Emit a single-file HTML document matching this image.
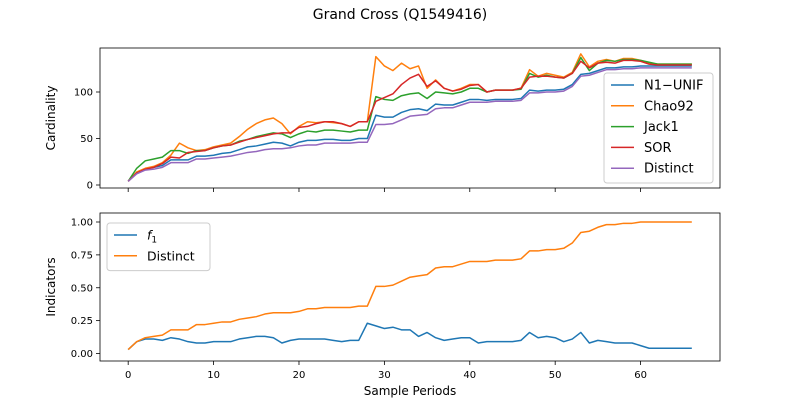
<!DOCTYPE html>
<html><head><meta charset="utf-8"><style>
body{margin:0;background:#fff;}
svg{display:block;font-family:"DejaVu Sans","Liberation Sans",sans-serif;}
</style></head><body>
<svg id="chart" width="800" height="400"></svg>
<script>
const periods = Array.from({length:67},(_,i)=>i);
const distinctTop=[4,12,16,17,19,24,24,24,28,28,29,30,31,33,35,36,38,39,39,40,42,43,43,45,45,45,45,46,46,65,65,66,70,74,75,76,82,83,83,86,89,89,89,90,90,90,91,99,99,100,100,101,106,117,118,121,124,124,125,125,126,126,126,126,126,126,126];
const n1unif=[4,13,17,19,21,27,27,27,31,31,32,34,35,38,41,42,44,46,45,42,46,48,48,49,49,48,48,50,50,75,73,73,78,81,82,80,87,86,86,89,92,92,91,92,92,92,93,102,101,102,102,103,108,119,120,123,126,126,127,127,128,128,128,128,128,128,128];
const chao92=[4,14,18,20,24,32,45,40,37,38,41,43,45,52,60,66,70,72,66,55,63,68,67,68,67,66,63,68,68,138,128,123,131,125,128,104,113,104,101,104,108,108,100,102,102,102,104,124,117,120,118,116,121,141,127,133,135,133,136,136,134,131,130,130,130,130,130];
const jack1=[4,18,26,28,30,37,37,34,37,37,40,42,43,47,49,52,54,56,55,51,55,58,57,59,59,58,57,59,59,95,92,91,96,98,99,93,100,99,98,100,104,104,100,102,102,102,103,120,116,118,116,115,120,137,123,131,134,133,135,135,134,132,130,130,130,130,130];
const sor=[4,13,17,19,23,30,29,35,36,37,40,42,43,46,49,51,53,55,56,56,62,63,66,68,68,66,63,68,68,90,94,98,108,115,119,106,112,104,101,103,107,108,100,102,102,102,104,116,117,117,116,115,120,133,126,131,132,131,134,134,133,130,129,129,129,129,129];
const f1=[0.03,0.09,0.11,0.11,0.10,0.12,0.11,0.09,0.08,0.08,0.09,0.09,0.09,0.11,0.12,0.13,0.13,0.12,0.08,0.10,0.11,0.11,0.11,0.11,0.10,0.09,0.10,0.10,0.23,0.21,0.19,0.20,0.18,0.18,0.13,0.16,0.12,0.10,0.11,0.12,0.12,0.08,0.09,0.09,0.09,0.09,0.10,0.16,0.12,0.13,0.12,0.09,0.11,0.16,0.08,0.10,0.09,0.08,0.08,0.08,0.06,0.04,0.04,0.04,0.04,0.04,0.04];
const distinctFrac=[0.03,0.09,0.12,0.13,0.14,0.18,0.18,0.18,0.22,0.22,0.23,0.24,0.24,0.26,0.27,0.28,0.30,0.31,0.31,0.31,0.32,0.34,0.34,0.35,0.35,0.35,0.35,0.36,0.36,0.51,0.51,0.52,0.55,0.58,0.59,0.60,0.65,0.66,0.66,0.68,0.70,0.70,0.70,0.71,0.71,0.71,0.72,0.78,0.78,0.79,0.79,0.80,0.84,0.92,0.93,0.96,0.98,0.98,0.99,0.99,1.0,1.0,1.0,1.0,1.0,1.0,1.0];
const xTicks=[0,10,20,30,40,50,60];
const topTicks=[0,50,100];
const botTicks=[0,0.25,0.5,0.75,1.0];
const botTickLabels=["0.00","0.25","0.50","0.75","1.00"];

const svg=document.getElementById('chart');
const NS='http://www.w3.org/2000/svg';
function mk(tag,attrs,parent){const e=document.createElementNS(NS,tag);for(const k in attrs)e.setAttribute(k,attrs[k]);(parent||svg).appendChild(e);return e;}
const L=100,R=720;
const xs=v=>L+(v+3.3)/72.6*(R-L);
const T1=48,B1=188,yt=v=>185-v*0.93;
const T2=213,B2=361,yb=v=>353.5-v*131.5;
const colors=['#1f77b4','#ff7f0e','#2ca02c','#d62728','#9467bd'];

let t=mk('text',{x:400,y:19,'text-anchor':'middle','font-size':14});t.textContent='Grand Cross (Q1549416)';



function axes(T,B,yf,ticks,labels,name,ylabel,showX){
  const g=mk('g',{});
  
  
  xTicks.forEach(v=>{mk('line',{x1:xs(v),x2:xs(v),y1:B,y2:B+4,stroke:'#000','stroke-width':0.8},g);
    if(showX){const tx=mk('text',{x:xs(v),y:B+17,'text-anchor':'middle','font-size':10},g);tx.textContent=v;}});
  ticks.forEach((v,i)=>{mk('line',{x1:L-4,x2:L,y1:yf(v),y2:yf(v),stroke:'#000','stroke-width':0.8},g);
    const tx=mk('text',{x:L-7,y:yf(v)+3.5,'text-anchor':'end','font-size':10},g);tx.textContent=labels[i];});
  const yl=mk('text',{x:0,y:0,'text-anchor':'middle','font-size':12,transform:`translate(${L-45},${(T+B)/2}) rotate(-90)`},g);yl.textContent=ylabel;
  return g;
}
function series(data,yf,color,name){
  const p=mk('polyline',{points:data.map((v,i)=>xs(periods[i])+','+yf(v)).join(' '),fill:'none',stroke:color,'stroke-width':1.5,'stroke-linejoin':'round'});
  
  
}
axes(T1,B1,yt,topTicks,topTicks.map(String),'top-axes','Cardinality',false);
series(n1unif,yt,colors[0],'line-n1-unif');
series(chao92,yt,colors[1],'line-chao92');
series(jack1,yt,colors[2],'line-jack1');
series(sor,yt,colors[3],'line-sor');
series(distinctTop,yt,colors[4],'line-distinct-top');
mk('rect',{x:L,y:T1,width:R-L,height:B1-T1,fill:'none',stroke:'#000','stroke-width':0.8});

axes(T2,B2,yb,botTicks,botTickLabels,'bottom-axes','Indicators',true);
series(f1,yb,colors[0],'line-f1');
series(distinctFrac,yb,colors[1],'line-distinct-fraction');
mk('rect',{x:L,y:T2,width:R-L,height:B2-T2,fill:'none',stroke:'#000','stroke-width':0.8});
const xl=mk('text',{x:410,y:395,'text-anchor':'middle','font-size':12});xl.textContent='Sample Periods';



function legend(x,y,w,fs,items,name){
  const g=mk('g',{});
  
  
  mk('rect',{x:x,y:y,width:w,height:items.length*20.8+6,fill:'#fff','fill-opacity':0.8,stroke:'#ccc',rx:3},g);
  items.forEach((it,i)=>{const cy=y+12+i*20.8;
    const ln=mk('line',{x1:x+7,x2:x+30,y1:cy,y2:cy,stroke:it[1],'stroke-width':1.5},g);
    
    
    const tx=mk('text',{x:x+40,y:cy+4.5,'font-size':fs},g);tx.innerHTML=it[0];
    
    
  });
}
legend(604,73,109,13,[['N1−UNIF',colors[0]],['Chao92',colors[1]],['Jack1',colors[2]],['SOR',colors[3]],['Distinct',colors[4]]],'legend-top');
legend(107,223,103,12.5,[['<tspan font-style="italic">f</tspan><tspan font-size="9" dy="3">1</tspan>',colors[0]],['Distinct',colors[1]]],'legend-bottom');
</script>
</body></html>
